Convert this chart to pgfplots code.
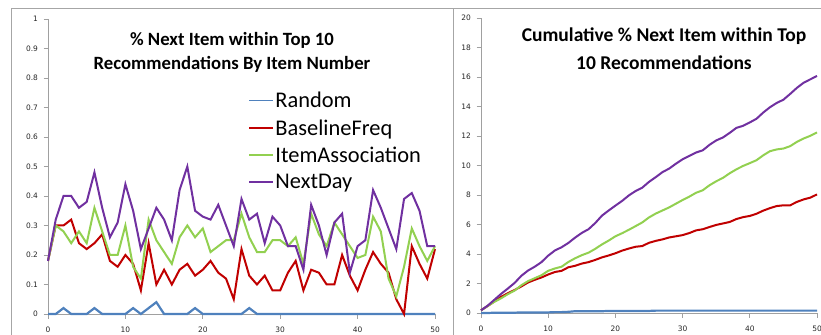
\documentclass[border=0pt]{standalone}
\usepackage{fontspec}
\setmainfont{Carlito}
\newfontfamily\tickfont{DejaVu Sans}
\usepackage{pgfplots}
\pgfplotsset{compat=1.18}
\usepackage{pgfplotstable}
\definecolor{cRandom}{HTML}{4F81BD}
\definecolor{cBase}{HTML}{C00000}
\definecolor{cItem}{HTML}{92D050}
\definecolor{cNext}{HTML}{7030A0}
\definecolor{cFrame}{HTML}{A6A6A6}
\definecolor{cAxis}{HTML}{A0A0A0}

\pgfplotstableread{
x rnd base item next
0 0 0.18 0.18 0.18
1 0 0.30 0.30 0.32
2 0.02 0.30 0.28 0.40
3 0 0.32 0.24 0.40
4 0 0.24 0.28 0.36
5 0 0.22 0.24 0.38
6 0.02 0.24 0.36 0.48
7 0 0.27 0.28 0.36
8 0 0.18 0.20 0.26
9 0 0.16 0.20 0.31
10 0 0.20 0.30 0.44
11 0.02 0.17 0.16 0.35
12 0 0.08 0.12 0.22
13 0.02 0.24 0.32 0.29
14 0.04 0.10 0.25 0.36
15 0 0.15 0.21 0.32
16 0 0.10 0.17 0.25
17 0 0.15 0.26 0.42
18 0 0.17 0.30 0.50
19 0.02 0.13 0.26 0.35
20 0 0.15 0.29 0.33
21 0 0.18 0.21 0.32
22 0 0.14 0.23 0.37
23 0 0.12 0.25 0.30
24 0 0.05 0.25 0.23
25 0 0.22 0.34 0.39
26 0.02 0.13 0.26 0.32
27 0 0.10 0.21 0.34
28 0 0.13 0.21 0.24
29 0 0.08 0.25 0.33
30 0 0.08 0.25 0.30
31 0 0.14 0.23 0.23
32 0 0.18 0.26 0.23
33 0 0.08 0.17 0.15
34 0 0.15 0.34 0.37
35 0 0.14 0.27 0.30
36 0 0.10 0.23 0.20
37 0 0.10 0.31 0.31
38 0 0.20 0.27 0.34
39 0 0.13 0.23 0.14
40 0 0.08 0.19 0.23
41 0 0.15 0.20 0.25
42 0 0.21 0.33 0.42
43 0 0.17 0.28 0.36
44 0 0.14 0.12 0.29
45 0 0.05 0.06 0.22
46 0 0.00 0.16 0.39
47 0 0.23 0.29 0.41
48 0 0.17 0.23 0.35
49 0 0.12 0.18 0.23
50 0 0.22 0.23 0.23
}\perItem

\pgfplotstableread{
x rnd base item next
0 0 0.18 0.18 0.18
1 0 0.48 0.48 0.50
2 0.02 0.78 0.76 0.90
3 0.02 1.10 1.00 1.30
4 0.02 1.34 1.28 1.66
5 0.02 1.56 1.52 2.04
6 0.04 1.80 1.88 2.52
7 0.04 2.07 2.16 2.88
8 0.04 2.25 2.36 3.14
9 0.04 2.41 2.56 3.45
10 0.04 2.61 2.86 3.89
11 0.06 2.78 3.02 4.24
12 0.06 2.86 3.14 4.46
13 0.08 3.10 3.46 4.75
14 0.12 3.20 3.71 5.11
15 0.12 3.35 3.92 5.43
16 0.12 3.45 4.09 5.68
17 0.12 3.60 4.35 6.10
18 0.12 3.77 4.65 6.60
19 0.14 3.90 4.91 6.95
20 0.14 4.05 5.20 7.28
21 0.14 4.23 5.41 7.60
22 0.14 4.37 5.64 7.97
23 0.14 4.49 5.89 8.27
24 0.14 4.54 6.14 8.50
25 0.14 4.76 6.48 8.89
26 0.16 4.89 6.74 9.21
27 0.16 4.99 6.95 9.55
28 0.16 5.12 7.16 9.79
29 0.16 5.20 7.41 10.12
30 0.16 5.28 7.66 10.42
31 0.16 5.42 7.89 10.65
32 0.16 5.60 8.15 10.88
33 0.16 5.68 8.32 11.03
34 0.16 5.83 8.66 11.40
35 0.16 5.97 8.93 11.70
36 0.16 6.07 9.16 11.90
37 0.16 6.17 9.47 12.21
38 0.16 6.37 9.74 12.55
39 0.16 6.50 9.97 12.69
40 0.16 6.58 10.16 12.92
41 0.16 6.73 10.36 13.17
42 0.16 6.94 10.69 13.59
43 0.16 7.11 10.97 13.95
44 0.16 7.25 11.09 14.24
45 0.16 7.30 11.15 14.46
46 0.16 7.30 11.31 14.85
47 0.16 7.53 11.60 15.26
48 0.16 7.70 11.83 15.61
49 0.16 7.82 12.01 15.84
50 0.16 8.04 12.24 16.07
}\cumItem

\pgfplotsset{
  excelaxis/.style={
    scale only axis,
    anchor=origin,
    xmin=0, xmax=50,
    axis x line*=bottom, axis y line*=left,
    axis line style={cAxis, line width=0.7bp, -},
    tick style={cAxis, line width=0.7bp},
    tick align=outside,
    major tick length=4.5bp,
    xtick={0,10,20,30,40,50},
    ticklabel style={font=\tickfont\fontsize{7.5}{8}\selectfont, text=black!85},
    /pgf/number format/assume math mode=true,
    yticklabel style={xshift=-2bp},
    xticklabel style={yshift=-4.5bp},
    clip=false,
  },
}

\begin{document}
\begin{tikzpicture}
\path[use as bounding box] (0bp,0bp) rectangle (821bp,335bp);
\draw[cFrame, line width=0.8bp] (11bp,0bp) -- (11bp,327bp) -- (821bp,327bp);
\draw[cFrame, line width=0.8bp] (453bp,0bp) -- (453bp,327bp);

\begin{axis}[excelaxis,
  at={(48bp,21bp)}, width=387bp, height=295bp,
  ymin=0, ymax=1,
  ytick={0,0.1,0.2,0.3,0.4,0.5,0.6,0.7,0.8,0.9,1},
  yticklabel style={/pgf/number format/fixed, /pgf/number format/precision=1},
  legend style={at={(0.517,0.757)}, anchor=north west, draw=none, fill=none,
    font=\fontsize{22.5}{24}\selectfont, row sep=8bp, inner sep=0pt,
    nodes={inner sep=1.2bp}},
  legend cell align=left,
  legend image code/.code={\draw[#1] (0bp,0bp) -- (24bp,0bp);},
]
\addplot[cRandom, line width=2.2bp, forget plot] table[x=x, y=rnd] {\perItem};
\addlegendimage{cRandom, line width=1bp}
\addlegendentry{Random}
\addplot[cBase, line width=2bp] table[x=x, y=base] {\perItem};
\addlegendentry{BaselineFreq}
\addplot[cItem, line width=2bp] table[x=x, y=item] {\perItem};
\addlegendentry{ItemAssociation}
\addplot[cNext, line width=2bp] table[x=x, y=next] {\perItem};
\addlegendentry{NextDay}
\end{axis}
\node[font=\bfseries\fontsize{18.8}{24}\selectfont, align=center] at (232bp,283bp)
  {\% Next Item within Top 10\\Recommendations By Item Number};

\begin{axis}[excelaxis,
  at={(481bp,22bp)}, width=336bp, height=295bp,
  ymin=0, ymax=20,
  ytick={0,2,4,6,8,10,12,14,16,18,20},
]
\addplot[cRandom, line width=2.2bp] table[x=x, y=rnd] {\cumItem};
\addplot[cBase, line width=2bp] table[x=x, y=base] {\cumItem};
\addplot[cItem, line width=2bp] table[x=x, y=item] {\cumItem};
\addplot[cNext, line width=2bp] table[x=x, y=next] {\cumItem};
\end{axis}
\node[font=\bfseries\fontsize{19.6}{28}\selectfont, align=center] at (664bp,286bp)
  {Cumulative \% Next Item within Top\\10 Recommendations};
\end{tikzpicture}
\end{document}
